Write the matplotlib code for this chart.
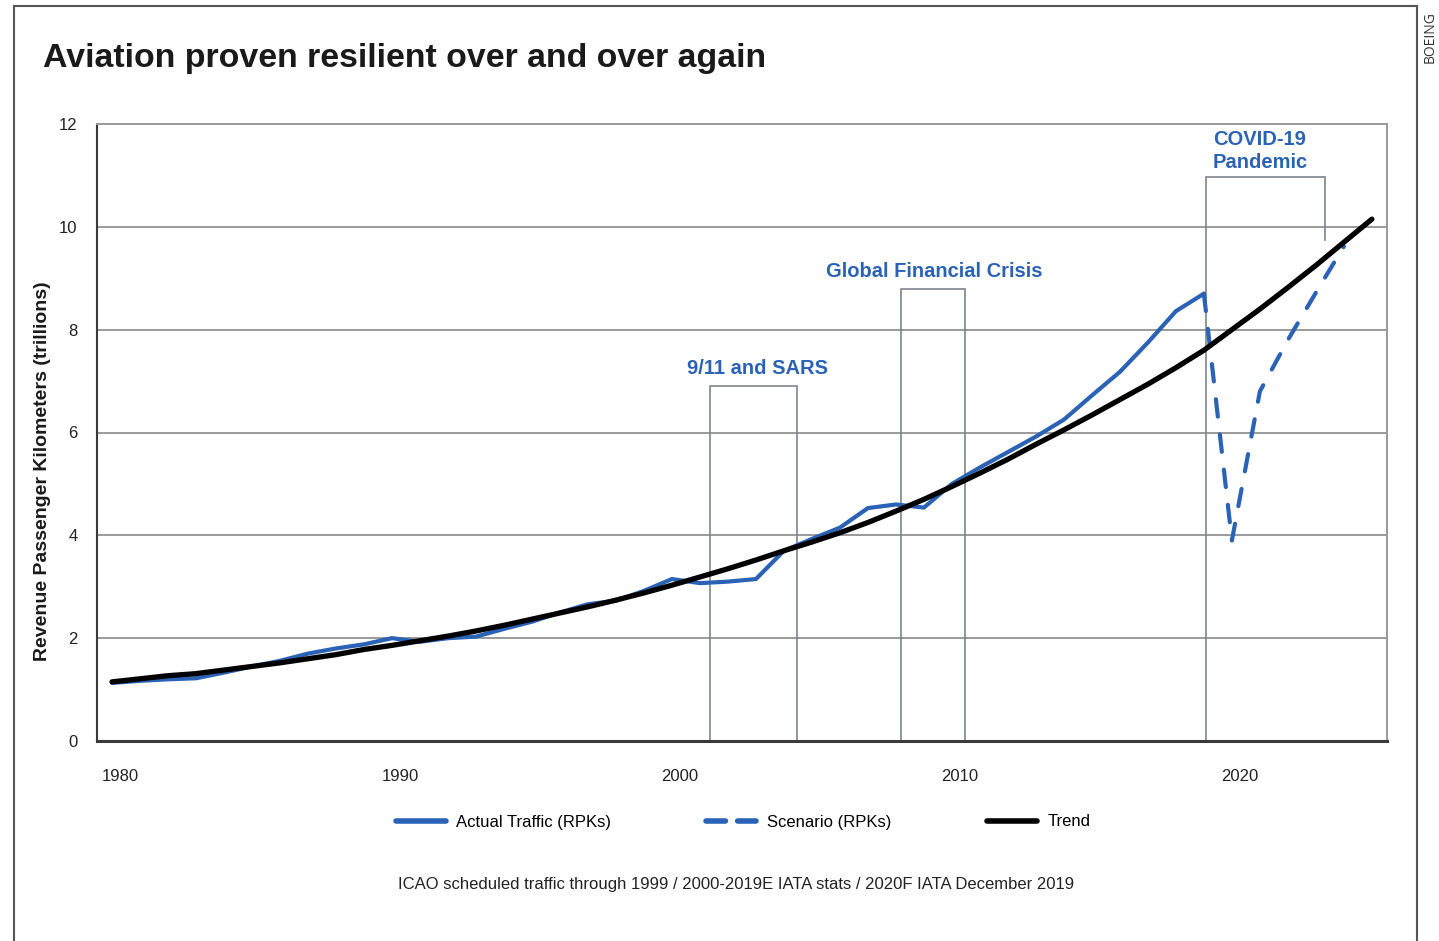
import matplotlib
matplotlib.use("Agg")
import matplotlib.pyplot as plt
import matplotlib.transforms as mtransforms
from matplotlib.lines import Line2D

plt.rcParams['font.family'] = ['Liberation Sans', 'DejaVu Sans']

# ---------------- data ----------------
actual_years = list(range(1980, 2020))
actual_rpk = [1.13, 1.17, 1.20, 1.22, 1.33, 1.45, 1.56, 1.70, 1.80, 1.88,
              2.00, 1.93, 2.00, 2.03, 2.18, 2.32, 2.50, 2.66, 2.73, 2.92,
              3.15, 3.07, 3.10, 3.15, 3.70, 3.93, 4.15, 4.53, 4.60, 4.54,
              5.00, 5.32, 5.62, 5.92, 6.25, 6.72, 7.18, 7.75, 8.36, 8.70]

scenario_years = [2019, 2020, 2021, 2022, 2023, 2024]
scenario_rpk = [8.70, 3.90, 6.80, 7.80, 8.72, 9.62]

trend_years = list(range(1980, 2026))
trend_rpk = [1.15, 1.21, 1.27, 1.31, 1.38, 1.45, 1.52, 1.60, 1.68, 1.78,
             1.86, 1.95, 2.04, 2.14, 2.25, 2.37, 2.49, 2.61, 2.74, 2.88,
             3.03, 3.19, 3.35, 3.52, 3.70, 3.87, 4.05, 4.25, 4.47, 4.70,
             4.95, 5.21, 5.48, 5.77, 6.05, 6.34, 6.64, 6.94, 7.26, 7.60,
             8.00, 8.40, 8.82, 9.25, 9.70, 10.15]

x_ticks = [1980, 1990, 2000, 2010, 2020]
x_tick_labels = ['1980', '1990', '2000', '2010', '2020']
y_ticks = [0, 2, 4, 6, 8, 10, 12]
y_tick_labels = ['0', '2', '4', '6', '8', '10', '12']

# event annotation brackets: (label, left year, right year, top value, right-leg bottom)
events = [
    ("9/11 and SARS", 2001.36, 2004.46, 6.90, 0.0),
    ("Global Financial Crisis", 2008.18, 2010.46, 8.79, 0.0),
    ("COVID-19\nPandemic", 2019.07, 2023.32, 10.97, 9.74),
]

series_labels = ['Actual Traffic (RPKs)', 'Scenario (RPKs)', 'Trend']

# ---------------- styling ----------------
BLUE = '#2a62b6'
GRID = '#9a9a9a'
BOX = '#7f858c'

fig = plt.figure(figsize=(14.39, 9.41), dpi=100)
ax = fig.add_axes([97/1439, 1-741/941, (1387-97)/1439, (741-124)/941])

ax.set_xlim(1979.464, 2025.54)
ax.set_ylim(0, 12)

# grid
for yv in y_ticks[1:]:
    ax.axhline(yv, color=GRID, lw=1.4, zorder=0)

# event brackets
for label, x0, x1, top, rbot in events:
    ax.plot([x0, x0, x1, x1], [0, top, top, rbot], color=BOX, lw=1.2, zorder=1,
            solid_joinstyle='miter')

# series
l_trend, = ax.plot(trend_years, trend_rpk, color='black', lw=3.8,
                   solid_capstyle='round', zorder=4)
l_act, = ax.plot(actual_years, actual_rpk, color=BLUE, lw=3.0,
                 solid_capstyle='round', solid_joinstyle='miter', zorder=3)
l_scn, = ax.plot(scenario_years, scenario_rpk, color=BLUE, lw=3.0,
                 linestyle=(0, (4.2, 4.3)), dash_capstyle='round', zorder=3)

# event labels
ax.text(2003.04, 7.25, events[0][0], color=BLUE, fontsize=14.5,
        fontweight='bold', ha='center', va='center')
ax.text(2009.36, 9.14, events[1][0], color=BLUE, fontsize=14.5,
        fontweight='bold', ha='center', va='center')
ax.text(2019.32, 11.47, events[2][0], color=BLUE, fontsize=14.5,
        fontweight='bold', ha='left', va='center', linespacing=1.25)

# spines
for s in ['top', 'right']:
    ax.spines[s].set_color(GRID)
    ax.spines[s].set_linewidth(1.4)
ax.spines['left'].set_color('#3a3a3a')
ax.spines['left'].set_linewidth(1.5)
ax.spines['bottom'].set_color('#3a3a3a')
ax.spines['bottom'].set_linewidth(2.2)

ax.set_xticks(x_ticks)
ax.set_xticklabels(x_tick_labels)
ax.set_yticks(y_ticks)
ax.set_yticklabels(y_tick_labels)
ax.tick_params(axis='both', length=0, labelsize=12, colors='#222222')
ax.tick_params(axis='x', pad=20)
ax.tick_params(axis='y', pad=14)
offset = mtransforms.ScaledTranslation(8/100, 0, fig.dpi_scale_trans)
for lab in ax.get_xticklabels():
    lab.set_transform(lab.get_transform() + offset)

# y label
fig.text(43/1439, 1-471/941, 'Revenue Passenger Kilometers (trillions)',
         rotation=90, fontsize=14, fontweight='bold', color='#1a1a1a',
         ha='center', va='center')

# title
fig.text(43/1439, 1-58/941, 'Aviation proven resilient over and over again',
         fontsize=24.4, fontweight='bold', color='#1a1a1a', ha='left', va='center')

# legend
leg = fig.legend([l_act, l_scn, l_trend], series_labels, loc='center',
                 bbox_to_anchor=(743/1439, 1-822/941), ncol=3, frameon=False,
                 fontsize=12, handlelength=3.0, handletextpad=0.65,
                 columnspacing=5.7)
for h in leg.legend_handles:
    h.set_linewidth(4.0)
leg.legend_handles[1].set_linestyle((0, (3.5, 2.2)))

# footnote
fig.text(736/1439, 1-884/941,
         'ICAO scheduled traffic through 1999 / 2000-2019E IATA stats / 2020F IATA December 2019',
         fontsize=12, color='#222222', ha='center', va='center')

# outer frame
frame_col = '#555555'
fig.add_artist(Line2D([14/1439, 14/1439], [0, 1-6/941], color=frame_col, lw=1.5,
                      transform=fig.transFigure))
fig.add_artist(Line2D([14/1439, 1417/1439], [1-6/941, 1-6/941], color=frame_col, lw=1.5,
                      transform=fig.transFigure))
fig.add_artist(Line2D([1417/1439, 1417/1439], [0, 1-6/941], color=frame_col, lw=1.5,
                      transform=fig.transFigure))

fig.text(1430/1439, 1-37/941, 'BOEING', rotation=90, fontsize=10,
         color='#333333', ha='center', va='center', family=['Open Sans', 'DejaVu Sans'])

fig.savefig('out.png', dpi=100)
